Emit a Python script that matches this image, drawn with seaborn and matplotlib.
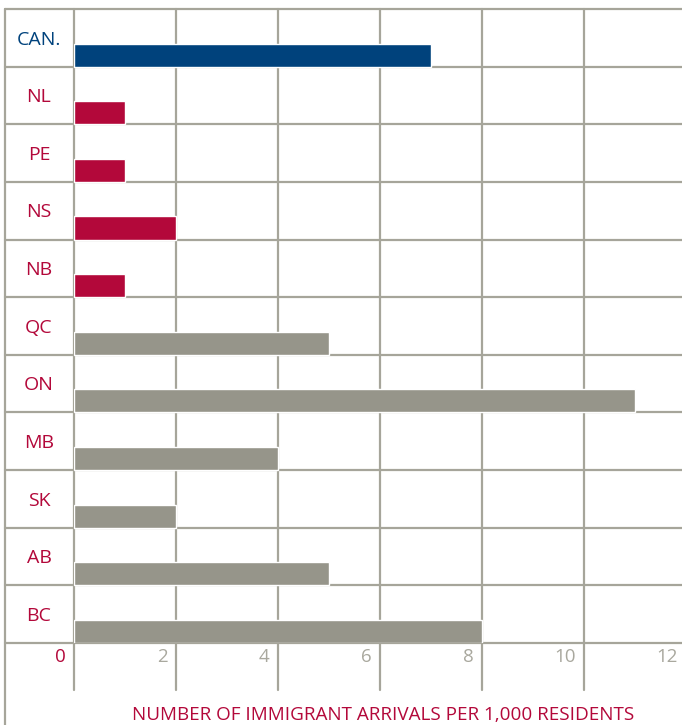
import matplotlib
matplotlib.use("Agg")
import matplotlib.pyplot as plt
from matplotlib.lines import Line2D
import seaborn as sns
import pandas as pd

# data
regions = ["CAN.", "NL", "PE", "NS", "NB", "QC", "ON", "MB", "SK", "AB", "BC"]
arrivals = [7.0, 1.0, 1.0, 2.0, 1.0, 5.0, 11.0, 4.0, 2.0, 5.0, 8.0]
groups = ["canada", "atlantic", "atlantic", "atlantic", "atlantic",
          "other", "other", "other", "other", "other", "other"]
xticks = [0, 2, 4, 6, 8, 10, 12]
xlabel = "NUMBER OF IMMIGRANT ARRIVALS PER 1,000 RESIDENTS"

BLUE = "#00427c"
RED = "#b3083a"
GREY = "#96958a"
GRID = "#a6a59a"
TICK_GREY = "#a9a89e"

sns.set_theme(style="white")
plt.rcParams["font.family"] = ["Open Sans", "DejaVu Sans"]

df = pd.DataFrame({"region": regions, "value": arrivals, "group": groups})
palette = {"canada": BLUE, "atlantic": RED, "other": GREY}

W, H = 682, 725
fig = plt.figure(figsize=(W / 100, H / 100), dpi=100)
# plot area: x=0 at px 74, x=12 at px 686; rows from px 9 to 643
left, right, top, bottom = 74, 686, 9, 643
ax = fig.add_axes([left / W, 1 - bottom / H, (right - left) / W, (bottom - top) / H])

bw = 0.4
sns.barplot(data=df, y="region", x="value", hue="group", palette=palette,
            order=regions, dodge=False, width=bw, legend=False,
            saturation=1, ax=ax)

n = len(regions)
ax.set_xlim(0, 12)
ax.set_ylim(n - 1 + bw / 2, -1 + bw / 2)
for s in ax.spines.values():
    s.set_visible(False)
ax.set_xticks([])
ax.set_yticks([])
ax.set_xlabel("")
ax.set_ylabel("")

# row separators, reaching out to the left rule
x0_ax = (5 - left) / (right - left)
for i in range(-1, n):
    ax.plot([x0_ax, 1], [i + bw / 2] * 2, color=GRID, lw=1.6,
            transform=ax.get_yaxis_transform(), clip_on=False, zorder=0)

# vertical grid lines, running below the plot into the tick area
y_ext = (bottom - 690) / (bottom - top)
for v in xticks:
    ax.plot([v, v], [y_ext, 1], color=GRID, lw=1.6,
            transform=ax.get_xaxis_transform(), clip_on=False, zorder=0)

# left rule down to the bottom of the figure
fig.add_artist(Line2D([5 / W, 5 / W], [0, 1 - top / H], color=GRID, lw=1.6))

# region labels
for i, (name, grp) in enumerate(zip(regions, groups)):
    ax.text((39 - left) / (right - left), i - 0.27, name,
            transform=ax.get_yaxis_transform(), ha="center", va="center",
            fontsize=14, fontweight="medium",
            color=BLUE if grp == "canada" else RED)

# tick labels, right aligned just left of each grid line
tick_y = (bottom - 657) / (bottom - top)
for v in xticks:
    ax.annotate(str(v), xy=(v, tick_y), xycoords=ax.get_xaxis_transform(),
                xytext=(-6, 0), textcoords="offset points",
                ha="right", va="center", fontsize=13.5, fontweight="medium",
                color=RED if v == 0 else TICK_GREY, annotation_clip=False)

fig.text(383 / W, 1 - 715 / H, xlabel, ha="center", va="center",
         fontsize=13.6, fontweight="medium", color=RED)

fig.savefig("out.png", dpi=100)
